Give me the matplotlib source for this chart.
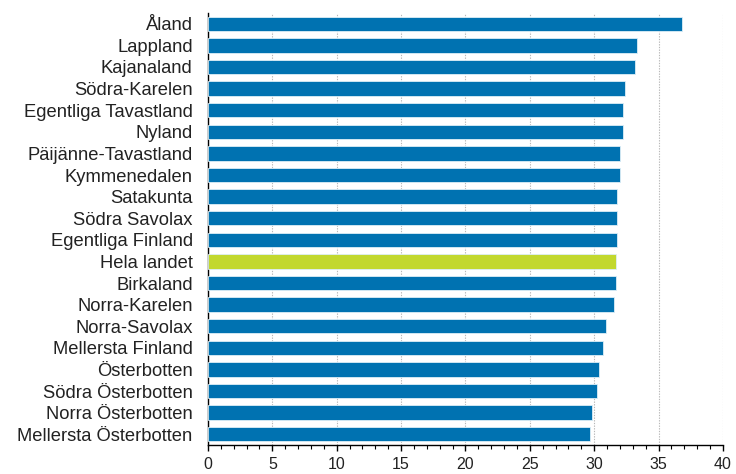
import matplotlib
matplotlib.use("Agg")
import matplotlib.pyplot as plt
from matplotlib.ticker import MultipleLocator

regions = ["Åland", "Lappland", "Kajanaland", "Södra-Karelen", "Egentliga Tavastland",
           "Nyland", "Päijänne-Tavastland", "Kymmenedalen", "Satakunta", "Södra Savolax",
           "Egentliga Finland", "Hela landet", "Birkaland", "Norra-Karelen", "Norra-Savolax",
           "Mellersta Finland", "Österbotten", "Södra Österbotten", "Norra Österbotten",
           "Mellersta Österbotten"]
values = [36.8, 33.3, 33.2, 32.4, 32.2, 32.2, 32.0, 32.0, 31.8, 31.8,
          31.8, 31.7, 31.7, 31.5, 30.9, 30.7, 30.4, 30.2, 29.8, 29.7]
highlight = "Hela landet"
x_ticks = [0, 5, 10, 15, 20, 25, 30, 35, 40]

plt.rcParams['font.family'] = ['Liberation Sans', 'DejaVu Sans']

fig = plt.figure(figsize=(7.36, 4.74), dpi=100)
ax = fig.add_axes([208/736, 1-445/474, (723-208)/736, (445-13)/474])

colors = ["#C2D82E" if r == highlight else "#0072B1" for r in regions]
ypos = list(range(len(regions)))
ax.barh(ypos, values, height=0.66, color=colors, edgecolor="#DDEEF7", linewidth=0.6, zorder=3)

ax.set_ylim(len(regions) - 0.5, -0.5)
ax.set_xlim(0, 40)
ax.set_yticks(ypos)
ax.set_yticklabels(regions, fontsize=13.2, color="#222222")
ax.tick_params(axis='y', length=0, pad=11)
ax.set_xticks(x_ticks)
ax.set_xticklabels([str(t) for t in x_ticks], fontsize=11.5, color="#222222")
ax.xaxis.set_minor_locator(MultipleLocator(1))
ax.tick_params(axis='x', which='major', direction='out', length=4.5, width=1, color='black', pad=4)
ax.tick_params(axis='x', which='minor', direction='out', length=3, width=0.8, color='black')

ax.grid(axis='x', which='major', linestyle=(0, (1.2, 1.2)), color='#B8B8B8', linewidth=0.8, zorder=0)
ax.set_axisbelow(True)

for s in ['top', 'right']:
    ax.spines[s].set_visible(False)
ax.spines['left'].set_color('black')
ax.spines['bottom'].set_color('black')
ax.spines['left'].set_linewidth(1)
ax.spines['bottom'].set_linewidth(1)

fig.savefig("out.png", dpi=100)
